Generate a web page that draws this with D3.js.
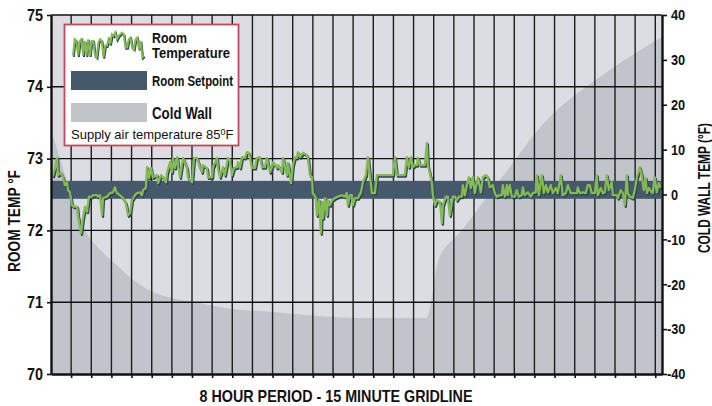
<!DOCTYPE html>
<html>
<head>
<meta charset="utf-8">
<script src="https://cdn.jsdelivr.net/npm/d3@7"></script>
<style>
  body { margin: 0; background: #fff; }
</style>
</head>
<body>
<script>
// ---- datos ----
// temperatura del cuarto (minutos desde el inicio, °F)
const roomTime = [
  1.3,3.0,4.5,5.2,7.4,8.9,10.4,11.9,12.7,14.1,
  15.6,17.1,19.4,20.1,22.3,23.8,25.3,26.8,28.3,30.5,
  31.3,34.2,35.0,36.5,38.0,38.7,41.7,43.9,46.2,47.6,
  49.1,51.4,53.6,55.8,57.3,58.8,60.3,62.5,64.0,66.3,
  67.7,68.5,70.7,71.5,73.0,74.4,75.9,78.9,79.7,81.9,
  83.4,85.6,86.4,88.6,90.1,
  90.8,92.3,93.8,96.0,98.3,101.2,102.0,105.0,106.5,108.7,
  110.9,112.4,113.1,116.1,116.9,119.9,120.6,123.6,124.3,125.8,
  128.0,129.5,131.8,133.2,134.7,136.2,138.5,139.2,140.7,142.2,
  144.4,145.9,147.4,149.6,151.9,153.3,155.6,157.1,159.3,160.8,
  163.0,164.5,165.3,168.2,169.0,172.0,172.7,175.7,176.4,178.7,180.1,
  181.6,183.1,183.9,185.4,187.6,190.6,191.3,192.8,194.3,195.0,
  197.3,198.0,199.5,201.0,201.7,202.5,204.0,205.5,206.2,207.7,
  209.2,211.4,213.6,216.6,218.9,220.3,221.1,222.6,224.1,224.8,
  226.3,228.5,230.8,232.3,234.5,236.0,237.5,239.0,241.2,242.7,
  246.4,254.6,256.1,257.6,263.5,265.0,266.5,268.0,269.5,
  271.0,272.5,273.2,274.7,278.4,279.9,280.6,283.6,284.4,285.9,
  287.3,289.6,291.1,291.8,294.0,295.5,297.0,299.2,300.7,302.2,
  303.7,306.0,306.7,308.2,309.7,311.2,312.6,314.1,315.6,317.9,
  320.1,321.6,323.8,325.3,326.8,329.0,330.5,332.0,334.2,335.7,
  336.5,338.0,339.5,340.2,341.7,343.2,345.4,346.9,348.4,350.6,
  351.4,352.8,355.1,357.3,358.8,
  361.0,361.8,363.3,365.5,367.0,368.5,370.0,372.2,373.7,375.9,
  377.4,379.6,381.1,383.4,384.9,387.1,388.6,391.6,392.3,393.8,
  396.0,398.3,399.7,401.2,402.7,405.0,406.4,407.2,409.4,410.9,
  412.4,413.9,415.4,417.6,418.4,421.3,422.1,424.3,425.8,427.3,
  428.8,429.5,431.0,433.2,434.7,436.2,438.5,439.9,441.4,442.9,
  443.7,445.2,447.4,448.1,449.6,451.1,452.6,454.1
];
const roomTemp = [
  72.75,72.87,73.01,72.77,72.80,72.74,72.63,72.67,72.56,72.53,
  72.35,72.33,72.33,72.21,71.96,72.17,72.33,72.26,72.47,72.47,
  72.49,72.49,72.47,72.49,72.21,72.45,72.47,72.52,72.53,72.60,
  72.52,72.49,72.45,72.38,72.21,72.24,72.42,72.49,72.52,72.53,
  72.49,72.56,72.59,72.88,72.73,72.87,72.74,72.77,72.66,72.77,
  72.74,72.67,72.80,72.95,72.81,
  73.01,72.87,73.02,72.74,73.01,72.87,72.73,72.67,73.01,73.01,
  72.88,72.81,72.91,72.87,72.74,72.74,72.88,73.01,72.87,72.74,
  72.88,72.77,73.01,72.98,72.77,72.87,72.88,72.95,72.87,73.02,
  73.01,73.09,73.08,72.87,72.87,73.01,73.02,72.88,72.88,73.01,
  72.81,72.88,72.95,72.87,72.91,72.81,73.01,72.77,72.94,72.66,72.91,
  73.02,73.01,73.09,73.02,73.08,73.05,73.01,72.77,72.74,72.52,
  72.45,72.21,72.42,71.96,72.40,72.17,72.45,72.21,72.42,72.35,
  72.42,72.45,72.47,72.49,72.47,72.52,72.35,72.49,72.49,72.35,
  72.45,72.45,72.53,72.67,72.77,73.02,72.77,72.52,72.52,72.77,
  72.77,72.77,73.02,72.77,72.77,73.02,72.88,73.02,72.88,
  72.91,72.91,73.01,72.91,72.91,73.22,72.91,72.67,72.49,72.35,
  72.42,72.40,72.10,72.35,72.47,72.47,72.21,72.47,72.47,72.42,
  72.47,72.47,72.63,72.49,72.63,72.74,72.59,72.74,72.52,72.74,
  72.53,72.74,72.77,72.74,72.60,72.63,72.52,72.47,72.49,72.49,
  72.63,72.47,72.63,72.49,72.63,72.47,72.47,72.56,72.47,72.49,
  72.60,72.49,72.53,72.47,72.52,
  72.53,72.77,72.49,72.77,72.52,72.63,72.53,72.63,72.52,72.59,
  72.52,72.77,72.49,72.52,72.63,72.52,72.52,72.52,72.60,72.52,
  72.53,72.52,72.63,72.63,72.52,72.52,72.77,72.49,72.59,72.52,
  72.53,72.77,72.56,72.67,72.49,72.49,72.45,72.56,72.52,72.35,
  72.77,72.52,72.47,72.45,72.56,72.73,72.88,72.77,72.56,72.73,
  72.52,72.59,72.53,72.52,72.74,72.53,72.66,72.59
];

// temperatura de la pared fria (minutos, °F)
const wallTime = [0, 5.2, 11.2, 17.9, 24.6, 31.3, 38.7, 46.2, 61.0, 75.9, 90.8, 105.7,
  120.6, 135.5, 165.3, 209.9, 225.6, 279.2, 280.6, 282.1, 284.4, 288.2, 293.3, 299.3,
  334.2, 369.2, 408.7, 455];
const wallTemp = [14.4, 9.5, 3.7, -2.3, -7.5, -10.6, -13.0, -15.0, -19.0, -21.7, -23.1, -23.9,
  -24.8, -25.5, -26.2, -27.3, -27.5, -27.5, -27.1, -25.7, -21.3, -15.0, -11.9, -10.1,
  3.2, 16.6, 26.2, 35.1];

// banda del setpoint (°F)
const setpointBand = [72.44, 72.69];

// trazo del icono de la leyenda (altura relativa)
const legendIcon = [10, 60, 55, 10, 55, 60, 10, 55, 10, 60, 10, 55, 55, 10, 5, 50, 60, 55, 5, 40,
  40, 60, 45, 75, 70, 80, 60, 70, 75, 80, 75, 35, 35, 60, 65, 35, 30, 60, 65, 30, 55, 5, 10];

// ticks
const roomTicks = [70, 71, 72, 73, 74, 75];
const roomGrid = [71, 72, 73, 74];
const wallTicks = [-40, -30, -20, -10, 0, 10, 20, 30, 40];
const gridMinutes = d3.range(15, 451, 15);

const width = 712;
const height = 406;
const plot = { left: 51, right: 662, top: 15, bottom: 374 };

const font = "'Liberation Sans', Arial, Helvetica, sans-serif";

const colBg = "#dcdde2";
const colWall = "#c1c4cb";
const colSet = "#45586c";
const colGreen = "#84ba52";
const colShadow = "#2c4257";

const svg = d3.select("body")
  .append("svg")
  .attr("width", width)
  .attr("height", height);

const x = d3.scaleLinear().domain([0, 455]).range([plot.left, plot.right]);
const yRoom = d3.scaleLinear().domain([70, 75]).range([plot.bottom, plot.top]);
const yWall = d3.scaleLinear().domain([-40, 40]).range([plot.bottom, plot.top]);

// fondo del grafico
svg.append("rect")
  .attr("x", plot.left)
  .attr("y", plot.top)
  .attr("width", plot.right - plot.left)
  .attr("height", plot.bottom - plot.top)
  .attr("fill", colBg);

// pared fria
const wallData = wallTime.map((t, i) => ({ t, v: wallTemp[i] }));
svg.append("path")
  .datum(wallData)
  .attr("fill", colWall)
  .attr("d", d3.area()
    .x(d => x(d.t))
    .y0(plot.bottom)
    .y1(d => yWall(d.v))
    .curve(d3.curveMonotoneX));

// lineas de grilla
svg.append("g")
  .selectAll("line")
  .data(gridMinutes)
  .join("line")
  .attr("x1", d => x(d))
  .attr("x2", d => x(d))
  .attr("y1", plot.top)
  .attr("y2", plot.bottom)
  .attr("stroke", "#1e1e1e")
  .attr("stroke-width", 1.4);

svg.append("g")
  .selectAll("line")
  .data(roomGrid)
  .join("line")
  .attr("x1", plot.left)
  .attr("x2", plot.right)
  .attr("y1", d => yRoom(d))
  .attr("y2", d => yRoom(d))
  .attr("stroke", "#111")
  .attr("stroke-width", 1.4);

// banda del setpoint
svg.append("rect")
  .attr("x", plot.left + 1)
  .attr("y", yRoom(setpointBand[1]))
  .attr("width", plot.right - plot.left - 2)
  .attr("height", yRoom(setpointBand[0]) - yRoom(setpointBand[1]))
  .attr("fill", colSet);

// temperatura del cuarto
const roomData = roomTime.map((t, i) => ({ t, v: roomTemp[i] }));
const roomLine = d3.line().x(d => x(d.t)).y(d => yRoom(d.v));

svg.append("path")
  .datum(roomData)
  .attr("fill", "none")
  .attr("stroke", colShadow)
  .attr("stroke-width", 2.3)
  .attr("stroke-linejoin", "round")
  .attr("transform", "translate(1,1.5)")
  .attr("d", roomLine);

svg.append("path")
  .datum(roomData)
  .attr("fill", "none")
  .attr("stroke", colGreen)
  .attr("stroke-width", 2.3)
  .attr("stroke-linejoin", "round")
  .attr("d", roomLine);

// angosta el texto (la fuente original es condensada)
function condense(sel, k) {
  sel.each(function () {
    const len = this.getComputedTextLength();
    this.setAttribute("textLength", len * k);
    this.setAttribute("lengthAdjust", "spacingAndGlyphs");
  });
}

// ejes
function styleAxis(g, size) {
  g.selectAll("text")
    .style("font-family", font)
    .style("font-weight", "bold")
    .style("font-size", size + "px")
    .attr("fill", "#111");
  g.selectAll(".tick line").attr("stroke", "#111").attr("stroke-width", 1.6);
  g.select(".domain").attr("stroke", "#111").attr("stroke-width", 2.4);
}

svg.append("g")
  .attr("transform", `translate(${plot.left},0)`)
  .call(d3.axisLeft(yRoom).tickValues(roomTicks).tickSize(4).tickSizeOuter(0).tickPadding(4)
    .tickFormat(d3.format("d")))
  .call(g => styleAxis(g, 16))
  .call(g => condense(g.selectAll("text"), 0.9));

svg.append("g")
  .attr("transform", `translate(${plot.right},0)`)
  .call(d3.axisRight(yWall).tickValues(wallTicks).tickSize(5).tickSizeOuter(0).tickPadding(4)
    .tickFormat(d => d < 0 ? "-" + Math.abs(d) : d))
  .call(g => styleAxis(g, 15))
  .call(g => g.selectAll("text").attr("dx", d => d < 0 ? -4 : 0))
  .call(g => condense(g.selectAll("text"), 0.85));

svg.append("g")
  .attr("transform", `translate(0,${plot.bottom})`)
  .call(d3.axisBottom(x).tickValues(gridMinutes).tickSize(4).tickSizeOuter(0).tickFormat(""))
  .call(g => styleAxis(g, 12));

// borde superior
svg.append("line")
  .attr("x1", plot.left)
  .attr("x2", plot.right)
  .attr("y1", plot.top)
  .attr("y2", plot.top)
  .attr("stroke", "#111")
  .attr("stroke-width", 1.6);

// texto condensado: ancho fijo con textLength
function boldText(sel, size, len) {
  return sel
    .style("font-family", font)
    .style("font-weight", "bold")
    .style("font-size", size + "px")
    .attr("fill", "#111")
    .attr("textLength", len)
    .attr("lengthAdjust", "spacingAndGlyphs");
}

// titulos
svg.append("text")
  .attr("transform", "translate(20,221) rotate(-90)")
  .attr("text-anchor", "middle")
  .call(boldText, 16.5, 102)
  .text("ROOM TEMP °F");

svg.append("text")
  .attr("transform", "translate(710,188) rotate(-90)")
  .attr("text-anchor", "middle")
  .call(boldText, 16, 130)
  .text("COLD WALL TEMP (°F)");

svg.append("text")
  .attr("x", 336)
  .attr("y", 402)
  .attr("text-anchor", "middle")
  .call(boldText, 16.5, 273)
  .text("8 HOUR PERIOD - 15 MINUTE GRIDLINE");

// leyenda
const legend = svg.append("g");

legend.append("rect")
  .attr("x", 64.5)
  .attr("y", 24.5)
  .attr("width", 174)
  .attr("height", 121)
  .attr("fill", "#fff")
  .attr("stroke", "#c4485e")
  .attr("stroke-width", 1.8);

const ix = d3.scaleLinear().domain([0, legendIcon.length - 1]).range([73, 144]);
const iy = d3.scaleLinear().domain([0, 85]).range([59, 31]);
const iconLine = d3.line().x((d, i) => ix(i)).y(d => iy(d));

legend.append("path")
  .datum(legendIcon)
  .attr("fill", "none")
  .attr("stroke", colShadow)
  .attr("stroke-width", 2)
  .attr("transform", "translate(0.8,1.2)")
  .attr("d", iconLine);

legend.append("path")
  .datum(legendIcon)
  .attr("fill", "none")
  .attr("stroke", colGreen)
  .attr("stroke-width", 2)
  .attr("d", iconLine);

legend.append("rect")
  .attr("x", 71).attr("y", 71).attr("width", 76).attr("height", 19)
  .attr("fill", colSet);

legend.append("rect")
  .attr("x", 71).attr("y", 103).attr("width", 76).attr("height", 19)
  .attr("fill", colWall);

const legendText = [
  { t: "Room", y: 43, s: 15.5, w: 35 },
  { t: "Temperature", y: 58, s: 15.5, w: 78 },
  { t: "Room Setpoint", y: 85.5, s: 14.5, w: 81 },
  { t: "Cold Wall", y: 119, s: 16.5, w: 60 }
];

legendText.forEach(d => {
  legend.append("text")
    .attr("x", 152)
    .attr("y", d.y)
    .call(boldText, d.s, d.w)
    .text(d.t);
});

const supply = legend.append("text")
  .attr("x", 71)
  .attr("y", 139)
  .style("font-family", font)
  .style("font-size", "13px")
  .attr("fill", "#111");
supply.append("tspan").text("Supply air temperature 85");
supply.append("tspan").attr("dy", -4).style("font-size", "9px").text("0");
supply.append("tspan").attr("dy", 4).text("F");
</script>
</body>
</html>
